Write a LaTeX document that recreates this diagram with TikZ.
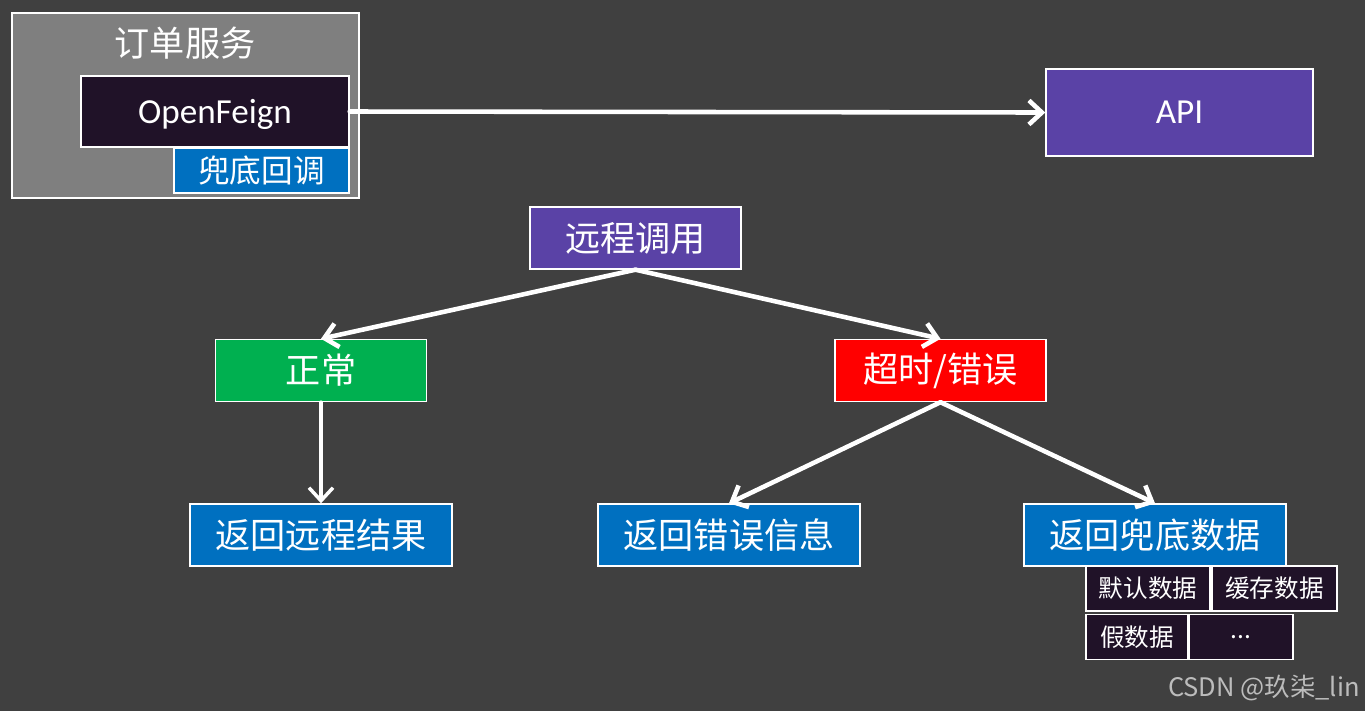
\documentclass[tikz,border=0pt]{standalone}
\usepackage{fontspec}
\setmainfont{Carlito}
\newfontfamily\cjk{Noto Sans CJK SC}
\usetikzlibrary{arrows.meta}
\definecolor{bgdark}{HTML}{404040}
\definecolor{svcgray}{HTML}{7F7F7F}
\definecolor{inkbox}{HTML}{201228}
\definecolor{callblue}{HTML}{0070C0}
\definecolor{callpurple}{HTML}{5A42A6}
\definecolor{okgreen}{HTML}{00B050}
\definecolor{errred}{HTML}{FF0000}

\begin{document}
\begin{tikzpicture}[
    card/.style={draw=white,line width=0.8pt,text=white,inner sep=0pt,font=\cjk\fontsize{20}{24}\selectfont},
    stage/.style={card,minimum width=4.22cm,minimum height=1.24cm},
    result/.style={card,fill=callblue,minimum width=5.24cm,minimum height=1.24cm},
    option/.style={card,fill=inkbox,minimum height=0.9cm,font=\cjk\fontsize{14}{17}\selectfont},
    flow/.style={-{Straight Barb[length=2.6mm,width=4.8mm]},white,line width=2.6pt,line cap=round}
]
\fill[bgdark] (0,0) rectangle (27.3,-14.22);
\useasboundingbox (0,0) rectangle (27.3,-14.22);

% order service block
\node[card,fill=svcgray,minimum width=6.94cm,minimum height=3.70cm] (service) at (3.71,-2.11) {};
\node[text=white,font=\cjk\fontsize{20}{24}\selectfont] (servicetitle) at (3.70,-0.86) {订单服务};
\node[card,fill=inkbox,minimum width=5.36cm,minimum height=1.42cm,text depth=0pt,font=\fontsize{20}{24}\selectfont] (feign) at (4.30,-2.23) {OpenFeign};
\node[card,fill=callblue,minimum width=3.5cm,minimum height=0.9cm,font=\cjk\fontsize{18}{22}\selectfont] (fallback) at (5.23,-3.41) {兜底回调};
\node[card,fill=callpurple,minimum width=5.34cm,minimum height=1.74cm,font=\fontsize{20}{24}\selectfont] (api) at (23.59,-2.25) {API};

\draw[flow] (feign.east) -- (api.west);

% call outcomes
\node[stage,fill=callpurple] (remote) at (12.71,-4.76) {远程调用};
\node[stage,fill=okgreen] (normal) at (6.42,-7.41) {正常};
\node[stage,fill=errred] (failure) at (18.81,-7.41) {超时/错误};

\node[result] (remoteresult) at (6.42,-10.70) {返回远程结果};
\node[result] (errorinfo) at (14.58,-10.70) {返回错误信息};
\node[result] (fallbackdata) at (23.10,-10.70) {返回兜底数据};

\node[option,minimum width=2.48cm] (defaultdata) at (22.96,-11.77) {默认数据};
\node[option,minimum width=2.50cm] (cachedata) at (25.49,-11.77) {缓存数据};
\node[option,minimum width=2.04cm] (fakedata) at (22.74,-12.74) {假数据};
\node[option,minimum width=2.08cm] (moredata) at (24.82,-12.74) {...};

\draw[flow] (remote.south) -- (normal.north);
\draw[flow] (remote.south) -- (failure.north);
\draw[flow,line width=2pt] (normal.south) -- (remoteresult.north);
\draw[flow] (failure.south) -- (errorinfo.north);
\draw[flow] (failure.south) -- (fallbackdata.north);

\node[anchor=east,inner sep=0pt,text=white!65!bgdark,font=\cjk\fontsize{14.5}{17}\selectfont] (mark) at (27.2,-13.76) {CSDN @玖柒\_lin};
\end{tikzpicture}
\end{document}
